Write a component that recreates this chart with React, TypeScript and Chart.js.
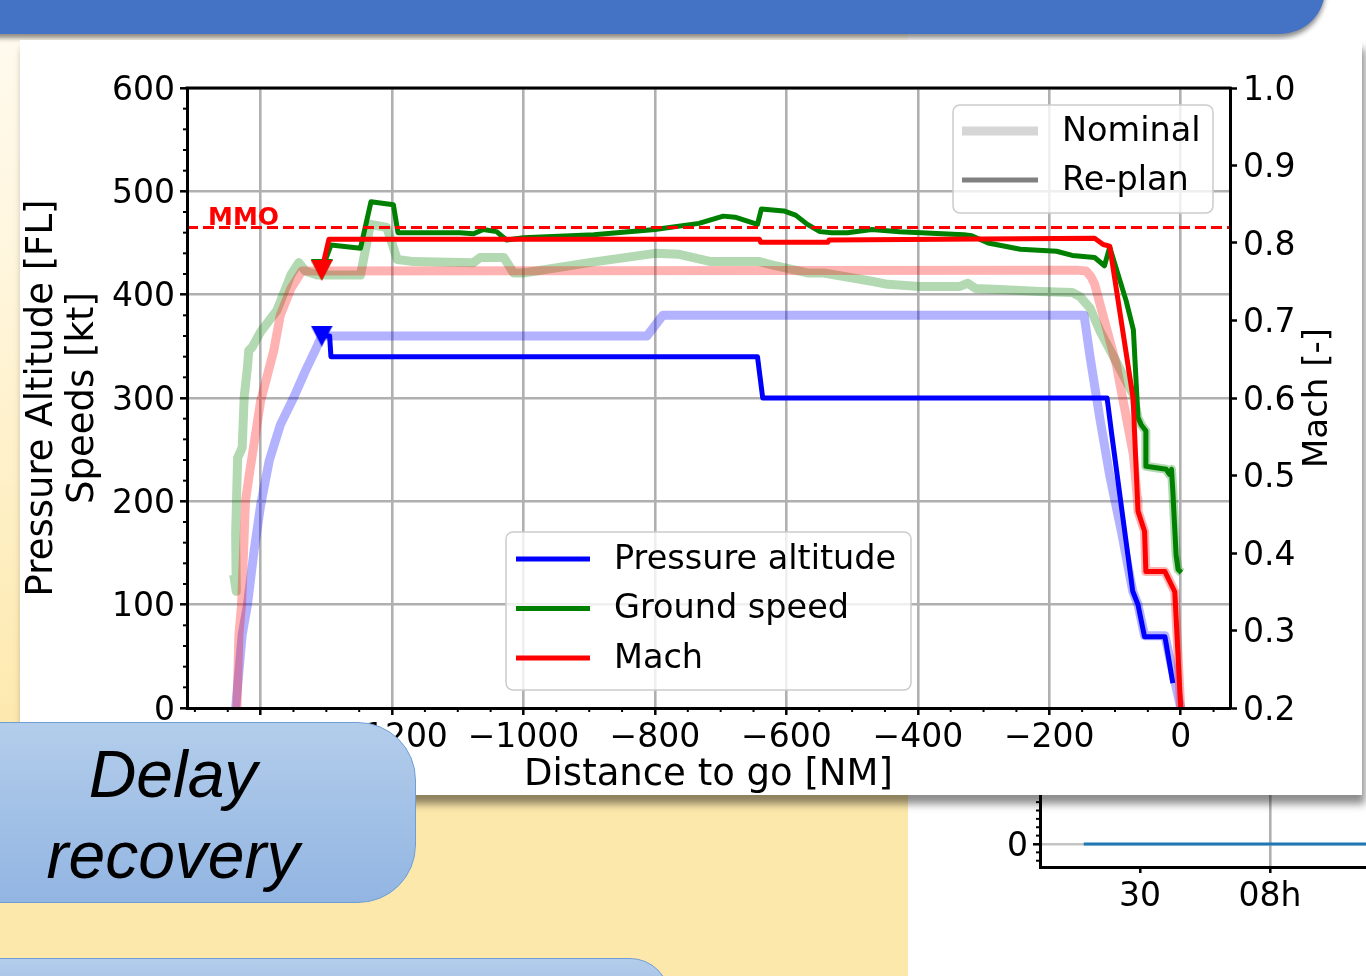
import React, { useEffect, useRef } from "react";
import { Chart, registerables } from "chart.js";

Chart.register(...registerables);

const FONT = "'DejaVu Sans', 'Noto Sans', sans-serif";

// ---------- axes ----------
const X_RANGE = [-1512, 75];
const X_TICKS = [-1400, -1200, -1000, -800, -600, -400, -200, 0];
const ALT_RANGE = [0, 600];
const ALT_TICKS = [0, 100, 200, 300, 400, 500, 600];
const MACH_RANGE = [0.2, 1.0];
const MACH_TICKS = [0.2, 0.3, 0.4, 0.5, 0.6, 0.7, 0.8, 0.9, 1.0];
const MMO = 0.82;
const MMO_LABEL = "MMO";

const X_TITLE = "Distance to go [NM]";
const Y_TITLE = ["Pressure Altitude [FL]", "Speeds [kt]"];
const Y1_TITLE = "Mach [-]";

const LEGEND_STYLE_LABELS = ["Nominal", "Re-plan"];
const LEGEND_VAR_LABELS = ["Pressure altitude", "Ground speed", "Mach"];

// ---------- data: pressure altitude [FL] ----------
const ALT_NOM_X = [-1438, -1428, -1420, -1410, -1400, -1387, -1370, -1350, -1332, -1317, -1307, -812, -788, -147, -138, -123, -108, -90, -73, -65, -55, -24, 0];
const ALT_NOM_Y = [0, 71, 100, 152, 196, 239, 274, 300, 326, 346, 360, 360, 380, 380, 340, 280, 225, 170, 113, 100, 70, 70, 0];

const ALT_REP_X = [-1307, -1295, -1293, -644, -636, -112, -105, -73, -65, -55, -24, -12];
const ALT_REP_Y = [360, 360, 340, 340, 300, 300, 265, 113, 100, 69, 69, 24];

// ---------- data: ground speed [kt] ----------
const GS_NOM_X = [-1441, -1437, -1438, -1435, -1428, -1425, -1420, -1418, -1413, -1400, -1375, -1354, -1342, -1332, -1314, -1248, -1233, -1208, -1192, -1167, -1076, -1066, -1030, -1015, -1000, -900, -800, -763, -715, -641, -617, -568, -543, -470, -446, -397, -336, -324, -312, -275, -214, -165, -153, -138, -123, -98, -72, -65, -60, -53, -53, -22, -17, -14, -12, -7, -4, 1];
const GS_NOM_Y = [129, 113, 168, 242, 252, 301, 330, 346, 349, 364, 385, 419, 431, 423, 419, 419, 468, 465, 434, 432, 431, 436, 436, 421, 421, 431, 440, 439, 432, 432, 428, 421, 421, 413, 410, 408, 408, 411, 406, 405, 403, 402, 398, 387, 365, 335, 303, 281, 274, 268, 234, 231, 226, 231, 210, 148, 134, 131];

const GS_REP_X = [-1307, -1293, -1248, -1232, -1198, -1191, -1097, -1076, -1061, -1041, -1026, -1000, -893, -800, -733, -696, -678, -644, -638, -604, -586, -568, -549, -531, -507, -470, -428, -330, -318, -293, -244, -189, -165, -131, -116, -108, -83, -72, -65, -60, -53, -53, -22, -17, -14, -12, -7, -4, 1];
const GS_REP_Y = [424, 448, 445, 490, 487, 460, 460, 459, 463, 461, 453, 455, 458, 463, 469, 476, 475, 468, 483, 481, 477, 468, 461, 460, 460, 463, 461, 458, 457, 450, 444, 442, 438, 436, 428, 446, 394, 366, 281, 274, 268, 234, 231, 226, 231, 210, 148, 134, 131];

// ---------- data: Mach [-] ----------
const MACH_NOM_X = [-1436, -1433, -1429, -1423, -1418, -1400, -1380, -1370, -1354, -1337, -159, -144, -137, -131, -98, -72, -66, -65, -55, -53, -24, -9, 0];
const MACH_NOM_Y = [0.2, 0.295, 0.333, 0.467, 0.497, 0.596, 0.661, 0.707, 0.741, 0.764, 0.765, 0.764, 0.757, 0.747, 0.643, 0.527, 0.47, 0.454, 0.428, 0.376, 0.376, 0.35, 0.2];

const MACH_REP_X = [-1307, -1296, -641, -639, -537, -535, -131, -118, -108, -72.5, -65, -55, -53, -24, -9, 0];
const MACH_REP_Y = [0.765, 0.805, 0.805, 0.801, 0.801, 0.804, 0.806, 0.798, 0.796, 0.6, 0.454, 0.428, 0.376, 0.376, 0.35, 0.2];

// ---------- background fragment chart ----------
const FRAG_RANGE = [426.9, 502.2];
const FRAG_X_TICKS = [450, 480];
const FRAG_X_LABELS = ["30", "08h"];
const FRAG_Y_RANGE = [-0.55, 1.29];
const FRAG_Y_TICKS = [0];
const FRAG_T = [437, 505];
const FRAG_V = [0, 0];

const pts = (xs: number[], ys: number[]) => xs.map((x, i) => ({ x, y: ys[i] }));

function triangle(color: string) {
  const c = document.createElement("canvas");
  c.width = 22;
  c.height = 21;
  const g = c.getContext("2d")!;
  g.fillStyle = color;
  g.beginPath();
  g.moveTo(0, 0);
  g.lineTo(22, 0);
  g.lineTo(11, 21);
  g.closePath();
  g.fill();
  return c;
}

function roundRect(ctx: CanvasRenderingContext2D, x: number, y: number, w: number, h: number, r: number) {
  ctx.beginPath();
  ctx.moveTo(x + r, y);
  ctx.arcTo(x + w, y, x + w, y + h, r);
  ctx.arcTo(x + w, y + h, x, y + h, r);
  ctx.arcTo(x, y + h, x, y, r);
  ctx.arcTo(x, y, x + w, y, r);
  ctx.closePath();
}

function drawLegend(
  ctx: CanvasRenderingContext2D,
  bx: number, by: number, w: number, h: number,
  items: { label: string; color: string; width: number }[],
  row0: number, rowGap: number, hx0: number, hx1: number, tx: number
) {
  ctx.save();
  roundRect(ctx, bx, by, w, h, 7);
  ctx.fillStyle = "rgba(255,255,255,0.8)";
  ctx.fill();
  ctx.strokeStyle = "#cccccc";
  ctx.lineWidth = 1.5;
  ctx.stroke();
  items.forEach((it, i) => {
    const y = by + row0 + i * rowGap;
    ctx.strokeStyle = it.color;
    ctx.lineWidth = it.width;
    ctx.lineCap = "butt";
    ctx.beginPath();
    ctx.moveTo(bx + hx0, y);
    ctx.lineTo(bx + hx1, y);
    ctx.stroke();
    ctx.fillStyle = "#000";
    ctx.font = `33.5px ${FONT}`;
    ctx.textAlign = "left";
    ctx.textBaseline = "middle";
    ctx.fillText(it.label, bx + tx, y + 1);
  });
  ctx.restore();
}

const fmtX = (v: number) => (v < 0 ? "\u2212" + Math.abs(v) : String(v));
// second line of a two-line label sits a few px below the tick, like matplotlib's centre_baseline
const lowered = (s: string) => ["", s];

const mainDecor = {
  id: "mainDecor",
  afterDatasetsDraw(chart: any) {
    const { ctx, chartArea: a, scales } = chart;
    const my = scales.y1.getPixelForValue(MMO);
    ctx.save();
    ctx.beginPath();
    ctx.rect(a.left, a.top, a.right - a.left, a.bottom - a.top);
    ctx.clip();
    ctx.strokeStyle = "#ff0000";
    ctx.lineWidth = 3;
    ctx.setLineDash([11, 5]);
    ctx.beginPath();
    ctx.moveTo(a.left, my);
    ctx.lineTo(a.right, my);
    ctx.stroke();
    ctx.setLineDash([]);
    ctx.font = `bold 25px ${FONT}`;
    ctx.fillStyle = "#ff0000";
    ctx.textAlign = "left";
    ctx.textBaseline = "alphabetic";
    ctx.fillText(MMO_LABEL, a.left + 21, my - 3);
    ctx.restore();

    drawLegend(ctx, a.right - 277, a.top + 17, 260, 108, [
      { label: LEGEND_STYLE_LABELS[0], color: "#d6d6d6", width: 9 },
      { label: LEGEND_STYLE_LABELS[1], color: "#808080", width: 5 },
    ], 26, 49, 9, 85, 109);

    const cx = (a.left + a.right) / 2;
    drawLegend(ctx, cx - 202.5, a.bottom - 18 - 158, 405, 158, [
      { label: LEGEND_VAR_LABELS[0], color: "#0000ff", width: 5 },
      { label: LEGEND_VAR_LABELS[1], color: "#008000", width: 5 },
      { label: LEGEND_VAR_LABELS[2], color: "#ff0000", width: 5 },
    ], 27, 49.5, 10, 84, 108);
  },
  afterDraw(chart: any) {
    const { ctx, chartArea: a, scales } = chart;
    ctx.save();
    // top spine
    ctx.strokeStyle = "#000";
    ctx.lineWidth = 3;
    ctx.beginPath();
    ctx.moveTo(a.left - 1.5, a.top);
    ctx.lineTo(a.right + 1.5, a.top);
    ctx.stroke();
    // minor ticks
    ctx.lineWidth = 2;
    for (let v = -1500; v <= 50; v += 50) {
      if (v % 200 === 0) continue;
      const px = scales.x.getPixelForValue(v);
      ctx.beginPath();
      ctx.moveTo(px, a.bottom);
      ctx.lineTo(px, a.bottom + 4);
      ctx.stroke();
    }
    for (let v = 0; v <= 600; v += 20) {
      if (v % 100 === 0) continue;
      const py = scales.y.getPixelForValue(v);
      ctx.beginPath();
      ctx.moveTo(a.left - 4, py);
      ctx.lineTo(a.left, py);
      ctx.stroke();
    }
    // titles
    ctx.fillStyle = "#000";
    ctx.font = `37px ${FONT}`;
    ctx.textAlign = "center";
    ctx.textBaseline = "middle";
    const midY = (a.top + a.bottom) / 2;
    ctx.fillText(X_TITLE, (a.left + a.right) / 2, a.bottom + 67);
    const rot = (x: number, t: string) => {
      ctx.save();
      ctx.translate(x, midY);
      ctx.rotate(-Math.PI / 2);
      ctx.fillText(t, 0, 0);
      ctx.restore();
    };
    rot(a.left - 145, Y_TITLE[0]);
    rot(a.left - 104, Y_TITLE[1]);
    ctx.font = `34px ${FONT}`;
    rot(a.right + 88, Y1_TITLE);
    ctx.restore();
  },
};

const fragDecor = {
  id: "fragDecor",
  afterDraw(chart: any) {
    const { ctx, chartArea: a, scales } = chart;
    ctx.save();
    ctx.strokeStyle = "#000";
    ctx.lineWidth = 2;
    for (let v = -0.4; v <= 1.25; v += 0.2) {
      if (Math.abs(v) < 1e-6) continue;
      const py = scales.y.getPixelForValue(v);
      ctx.beginPath();
      ctx.moveTo(a.left - 4, py);
      ctx.lineTo(a.left, py);
      ctx.stroke();
    }
    ctx.restore();
  },
};

export default function App() {
  const mainRef = useRef<HTMLCanvasElement>(null);
  const fragRef = useRef<HTMLCanvasElement>(null);

  useEffect(() => {
    const charts: Chart[] = [];
    const tickFont = { family: FONT, size: 33 };
    const yTickFont = { family: FONT, size: 33, lineHeight: 6 / 33 };
    const axisGrid = { color: "#b0b0b0", lineWidth: 2.6, tickColor: "#000", tickLength: 7, tickWidth: 2.5 };
    const border = { display: true, color: "#000", width: 3, z: 1 };

    const line = (label: string, data: any[], color: string, width: number, yAxisID: string, order: number, marker?: HTMLCanvasElement) => ({
      label,
      data,
      borderColor: color,
      backgroundColor: color,
      borderWidth: width,
      yAxisID,
      order,
      tension: 0,
      fill: false,
      borderJoinStyle: "round",
      borderCapStyle: "butt",
      pointStyle: marker || "circle",
      pointRadius: marker ? (c: any) => (c.dataIndex === 0 ? 10 : 0) : 0,
      pointHoverRadius: 0,
      pointBorderWidth: 0,
    });

    if (mainRef.current) {
      charts.push(
        new Chart(mainRef.current, {
          type: "line",
          data: {
            datasets: [
              line("Pressure altitude nominal", pts(ALT_NOM_X, ALT_NOM_Y), "rgba(0,0,255,0.3)", 9, "y", 7),
              line("Ground speed nominal", pts(GS_NOM_X, GS_NOM_Y), "rgba(0,128,0,0.3)", 9, "y", 6),
              line("Pressure altitude re-plan", pts(ALT_REP_X, ALT_REP_Y), "#0000ff", 5, "y", 5, triangle("#0000ff")),
              line("Ground speed re-plan", pts(GS_REP_X, GS_REP_Y), "#008000", 5, "y", 4, triangle("#008000")),
              line("Mach nominal", pts(MACH_NOM_X, MACH_NOM_Y), "rgba(255,0,0,0.3)", 9, "y1", 3),
              line("Mach re-plan", pts(MACH_REP_X, MACH_REP_Y), "#ff0000", 5, "y1", 2, triangle("#ff0000")),
            ] as any,
          },
          options: {
            responsive: false,
            animation: false,
            devicePixelRatio: 1,
            events: [],
            layout: { padding: { top: 48, left: 0, right: 0, bottom: 0 } },
            plugins: { legend: { display: false }, tooltip: { enabled: false }, title: { display: false } },
            scales: {
              x: {
                type: "linear",
                position: "bottom",
                min: X_RANGE[0],
                max: X_RANGE[1],
                afterBuildTicks: (s: any) => { s.ticks = X_TICKS.map((value) => ({ value })); },
                afterFit: (s: any) => { s.height = 87; },
                ticks: { font: tickFont, color: "#000", padding: 4, maxRotation: 0, autoSkip: false, callback: (v: any) => fmtX(Number(v)) },
                grid: axisGrid,
                border,
              },
              y: {
                type: "linear",
                position: "left",
                min: ALT_RANGE[0],
                max: ALT_RANGE[1],
                afterBuildTicks: (s: any) => { s.ticks = ALT_TICKS.map((value) => ({ value })); },
                afterFit: (s: any) => { s.width = 167; },
                ticks: { font: yTickFont, color: "#000", padding: 5, autoSkip: false, callback: (v: any) => lowered(String(v)) },
                grid: axisGrid,
                border,
              },
              y1: {
                type: "linear",
                position: "right",
                min: MACH_RANGE[0],
                max: MACH_RANGE[1],
                afterBuildTicks: (s: any) => { s.ticks = MACH_TICKS.map((value) => ({ value })); },
                afterFit: (s: any) => { s.width = 132; },
                ticks: { font: yTickFont, color: "#000", padding: 6, autoSkip: false, callback: (v: any) => lowered(Number(v).toFixed(1)) },
                grid: { drawOnChartArea: false, tickColor: "#000", tickLength: 7, tickWidth: 2.5 },
                border,
              },
            },
          } as any,
          plugins: [mainDecor],
        })
      );
    }

    if (fragRef.current) {
      charts.push(
        new Chart(fragRef.current, {
          type: "line",
          data: {
            datasets: [
              {
                data: pts(FRAG_T, FRAG_V),
                borderColor: "#1f77b4",
                borderWidth: 3,
                pointRadius: 0,
                tension: 0,
              },
            ] as any,
          },
          options: {
            responsive: false,
            animation: false,
            devicePixelRatio: 1,
            events: [],
            layout: { padding: { top: 20, left: 0, right: 0, bottom: 0 } },
            plugins: { legend: { display: false }, tooltip: { enabled: false } },
            scales: {
              x: {
                type: "linear",
                min: FRAG_RANGE[0],
                max: FRAG_RANGE[1],
                afterBuildTicks: (s: any) => { s.ticks = FRAG_X_TICKS.map((value) => ({ value })); },
                afterFit: (s: any) => { s.height = 109; },
                ticks: {
                  font: tickFont, color: "#000", padding: 5, maxRotation: 0, autoSkip: false,
                  callback: (v: any) => FRAG_X_LABELS[FRAG_X_TICKS.indexOf(Number(v))] ?? "",
                },
                grid: {
                  color: (c: any) => (c.tick && c.tick.value === 480 ? "#b0b0b0" : "rgba(0,0,0,0)"),
                  lineWidth: 2.6, tickColor: "#000", tickLength: 6, tickWidth: 2.5,
                },
                border,
              },
              y: {
                type: "linear",
                min: FRAG_Y_RANGE[0],
                max: FRAG_Y_RANGE[1],
                afterBuildTicks: (s: any) => { s.ticks = FRAG_Y_TICKS.map((value) => ({ value })); },
                afterFit: (s: any) => { s.width = 40; },
                ticks: { font: yTickFont, color: "#000", padding: 5, callback: (v: any) => lowered(String(v)) },
                grid: { color: "#c4c4c4", lineWidth: 2.6, tickColor: "#000", tickLength: 7, tickWidth: 2.5 },
                border,
              },
            },
          } as any,
          plugins: [fragDecor],
        })
      );
    }

    return () => charts.forEach((c) => c.destroy());
  }, []);

  const abs = (s: React.CSSProperties): React.CSSProperties => ({ position: "absolute", ...s });

  return (
    <div style={abs({ left: 0, top: 0, width: 1366, height: 976, overflow: "hidden", background: "#ffffff" })}>
      <div style={abs({ left: 0, top: 0, width: 908, height: 976, background: "linear-gradient(to bottom, #FFFBF0 0px, #FFF6DE 250px, #FEEEBF 560px, #FDE8AB 760px, #FDE8AB 976px)" })} />
      <canvas ref={fragRef} width={366} height={206} style={abs({ left: 1000, top: 770, width: 366, height: 206 })} />
      <div style={abs({ left: -30, top: -20, width: 1355, height: 54, background: "#4472C4", borderBottomRightRadius: 45, boxShadow: "0 4px 5px rgba(0,0,0,0.45)" })} />
      <div style={abs({ left: 20, top: 40, width: 1342, height: 755, background: "#ffffff", boxShadow: "3px 9px 8px rgba(0,0,0,0.45)" })}>
        <canvas ref={mainRef} width={1342} height={755} style={{ display: "block", width: 1342, height: 755 }} />
      </div>
      <div style={abs({ left: -60, top: 722, width: 476, height: 181, borderRadius: 58, background: "linear-gradient(to bottom, #B3CDEB, #92B5E2)", border: "1.5px solid #6F9ED6", boxSizing: "border-box" })} />
      <div style={abs({ left: 0, top: 734, width: 346, textAlign: "center", fontFamily: "'Liberation Sans', Arial, sans-serif", fontStyle: "italic", fontSize: 66, lineHeight: "81px", color: "#000" })}>
        Delay
        <br />
        recovery
      </div>
      <div style={abs({ left: -60, top: 958, width: 730, height: 80, borderRadius: 55, background: "linear-gradient(to bottom, #B3CDEB, #92B5E2)", border: "1.5px solid #6F9ED6", boxSizing: "border-box" })} />
    </div>
  );
}
